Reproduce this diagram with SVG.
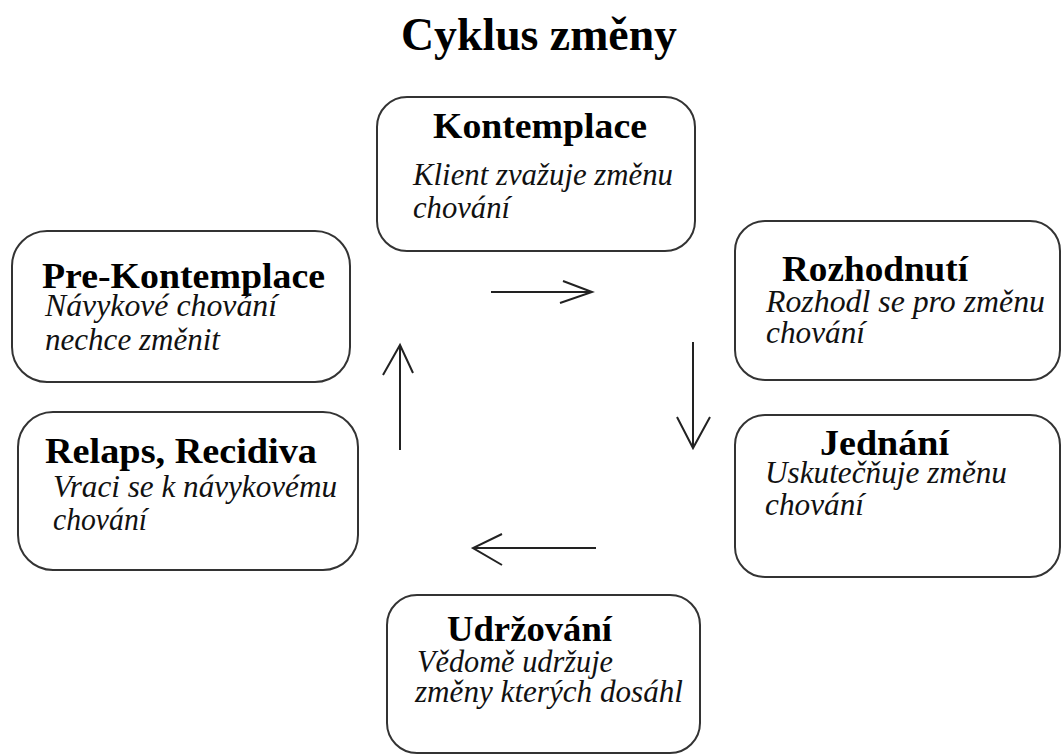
<svg xmlns="http://www.w3.org/2000/svg" width="1062" height="754" viewBox="0 0 1062 754">
<style>
.box{fill:#fff;stroke:#333;stroke-width:2}
.h{font-family:"Liberation Serif","Times New Roman",serif;font-weight:bold;font-size:36px;fill:#000}
.t{font-family:"Liberation Serif","Times New Roman",serif;font-style:italic;font-size:30.5px;fill:#111}
.title{font-family:"Liberation Serif","Times New Roman",serif;font-weight:bold;font-size:46px;fill:#000}
.c{fill:none;stroke:#222;stroke-width:2}
</style>
<rect width="1062" height="754" fill="#fff"/>
<text class="title" x="401" y="50" textLength="276" lengthAdjust="spacingAndGlyphs">Cyklus změny</text>
<g id="kontemplace">
<rect class="box" x="377" y="97" width="318" height="154" rx="30"/>
<text class="h" x="433" y="138" textLength="214" lengthAdjust="spacingAndGlyphs">Kontemplace</text>
<text class="t" x="413" y="185" textLength="260" lengthAdjust="spacingAndGlyphs">Klient zvažuje změnu</text>
<text class="t" x="413" y="218" textLength="97" lengthAdjust="spacingAndGlyphs">chování</text>
</g>
<g id="prekontemplace">
<rect class="box" x="12" y="231" width="338" height="151" rx="35"/>
<text class="h" x="42" y="288" textLength="283" lengthAdjust="spacingAndGlyphs">Pre-Kontemplace</text>
<text class="t" x="45" y="316" textLength="232" lengthAdjust="spacingAndGlyphs">Návykové chování</text>
<text class="t" x="45" y="350" textLength="175" lengthAdjust="spacingAndGlyphs">nechce změnit</text>
</g>
<g id="relaps">
<rect class="box" x="18" y="412" width="340" height="158" rx="35"/>
<text class="h" x="45" y="463" textLength="272" lengthAdjust="spacingAndGlyphs">Relaps, Recidiva</text>
<text class="t" x="53" y="497" textLength="284" lengthAdjust="spacingAndGlyphs">Vraci se k návykovému</text>
<text class="t" x="53" y="530" textLength="94" lengthAdjust="spacingAndGlyphs">chování</text>
</g>
<g id="rozhodnuti">
<rect class="box" x="735" y="221" width="325" height="159" rx="30"/>
<text class="h" x="782" y="281" textLength="186" lengthAdjust="spacingAndGlyphs">Rozhodnutí</text>
<text class="t" x="766" y="312" textLength="279" lengthAdjust="spacingAndGlyphs">Rozhodl se pro změnu</text>
<text class="t" x="766" y="343" textLength="99" lengthAdjust="spacingAndGlyphs">chování</text>
</g>
<g id="jednani">
<rect class="box" x="735" y="415" width="325" height="162" rx="30"/>
<text class="h" x="820" y="455" textLength="129" lengthAdjust="spacingAndGlyphs">Jednání</text>
<text class="t" x="765" y="483" textLength="242" lengthAdjust="spacingAndGlyphs">Uskutečňuje změnu</text>
<text class="t" x="765" y="515" textLength="99" lengthAdjust="spacingAndGlyphs">chování</text>
</g>
<g id="udrzovani">
<rect class="box" x="387" y="595" width="313" height="158" rx="30"/>
<text class="h" x="447" y="641" textLength="165" lengthAdjust="spacingAndGlyphs">Udržování</text>
<text class="t" x="417" y="672" textLength="196" lengthAdjust="spacingAndGlyphs">Vědomě udržuje</text>
<text class="t" x="415" y="702" textLength="268" lengthAdjust="spacingAndGlyphs">změny kterých dosáhl</text>
</g>
<g id="connectors">
<path class="c" d="M491,292 H592 M563,281 L592,292 L560,303"/>
<path class="c" d="M693,342 V448 M677,417 L693,448 L710,417"/>
<path class="c" d="M596,548 H473 M502,534 L473,548 L502,565"/>
<path class="c" d="M400,450 V345 M383,375 L400,345 L413,373"/>
</g>
</svg>
